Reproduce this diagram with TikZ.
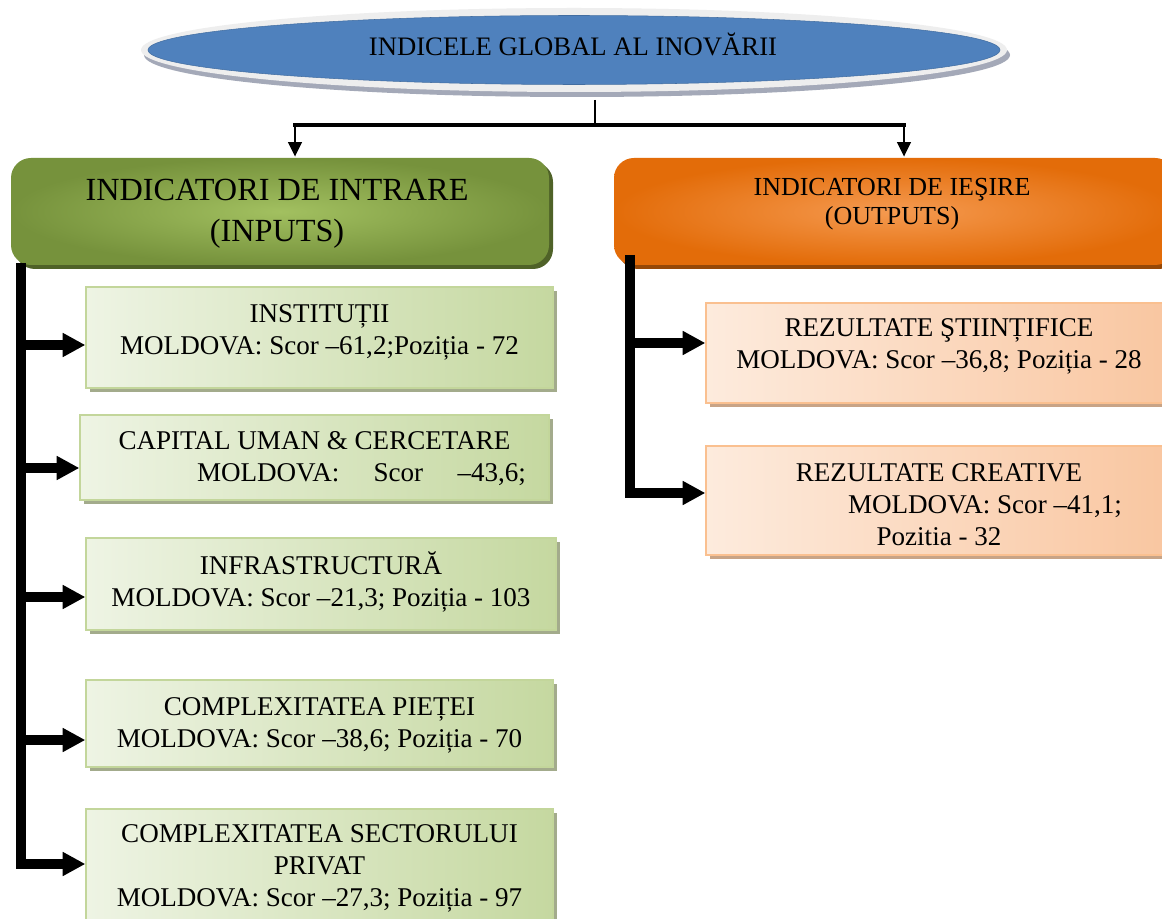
\documentclass[tikz,border=0pt]{standalone}
\usepackage{fontspec}
\setmainfont{Liberation Serif}
\usetikzlibrary{shapes.geometric,arrows.meta,shadows,calc}
\definecolor{ellblue}{HTML}{4F81BD}
\definecolor{ellring}{HTML}{EEEEEE}
\definecolor{ellshadow}{HTML}{A4A9B8}
\definecolor{gdark}{HTML}{76923C}
\definecolor{glight}{HTML}{A2C060}
\definecolor{gshadow}{HTML}{4F6228}
\definecolor{odark}{HTML}{E36C09}
\definecolor{olight}{HTML}{F59A50}
\definecolor{oshadow}{HTML}{974806}
\definecolor{sgl}{HTML}{EEF4E4}
\definecolor{sgr}{HTML}{C5D8A0}
\definecolor{sgborder}{HTML}{C3D69B}
\definecolor{sgshadow}{HTML}{A3AB8C}
\definecolor{sol}{HTML}{FDEBDD}
\definecolor{sor}{HTML}{F9C6A0}
\definecolor{soborder}{HTML}{FAC090}
\definecolor{soshadow}{HTML}{C8A487}
\tikzset{
  topell/.style={ellipse, fill=ellblue, draw=ellblue!85!black, line width=0.4pt,
    minimum width=639pt, minimum height=51.75pt, inner sep=0pt},
  mainbox/.style={rectangle, rounded corners=15pt, inner sep=0pt},
  inbox/.style={mainbox, inner color=glight, outer color=gdark,
    minimum width=403.5pt, minimum height=80.25pt,
    drop shadow={shadow xshift=3pt, shadow yshift=-3pt, fill=gshadow, opacity=1}},
  outbox/.style={mainbox, inner color=olight, outer color=odark,
    minimum width=420.75pt, minimum height=80.25pt,
    drop shadow={shadow xshift=3pt, shadow yshift=-3pt, fill=oshadow, opacity=1}},
  subg/.style={rectangle, draw=sgborder, line width=1pt, left color=sgl, right color=sgr,
    inner sep=0pt,
    drop shadow={shadow xshift=3pt, shadow yshift=-3pt, fill=sgshadow, opacity=1}},
  subo/.style={rectangle, draw=soborder, line width=1pt, left color=sol, right color=sor,
    inner sep=0pt,
    drop shadow={shadow xshift=3pt, shadow yshift=-3pt, fill=soshadow, opacity=1}},
  subtext/.style={align=center, inner sep=0pt, font=\fontsize{20.3}{24}\selectfont},
  topconn/.style={line width=2.2pt, -{Triangle[length=11pt,width=10pt]}},
  busarrow/.style={line width=7pt, -{Triangle[length=17pt,width=17pt]}}
}
\begin{document}
\begin{tikzpicture}[x=0.75pt,y=-0.75pt]
\useasboundingbox (0,0) rectangle (1162,919);
\fill[white] (0,0) rectangle (1162,919);

% top ellipse
\fill[ellshadow] (577,55) ellipse [x radius=433, y radius=42];
\fill[ellring] (574,50) ellipse [x radius=433, y radius=42];
\node[topell] (top) at (574,50) {};
\node[inner sep=0pt, font=\fontsize{20}{24}\selectfont] (ttop) at (573,44.5) {INDICELE GLOBAL AL INOVĂRII};

% main boxes
\node[inbox] (inb) at (280,211.5) {};
\node[align=center, inner sep=0pt, font=\fontsize{24.2}{31}\selectfont] (tinb) at (277,214) {INDICATORI DE INTRARE\\(INPUTS)};
\node[outbox] (outb) at (894.5,211.5) {};
\node[align=center, inner sep=0pt, font=\fontsize{19.5}{22}\selectfont] (toutb) at (892,204) {INDICATORI DE IEŞIRE\\(OUTPUTS)};

% input sub-boxes
\node[subg, minimum width=350.25pt, minimum height=75.75pt] (b1) at (319.5,337.5) {};
\node[subtext] (t1) at (319.5,332.5) {INSTITUȚII\\MOLDOVA: Scor –61,2;Poziția - 72};
\node[subg, minimum width=351.75pt, minimum height=63.75pt] (b2) at (314.5,457.5) {};
\node[subtext] (t2) at (314.5,459) {CAPITAL UMAN \& CERCETARE\\\hspace*{70.5pt}\makebox[246.75pt]{MOLDOVA:\hfill Scor\hfill –43,6;}};
\node[subg, minimum width=352.5pt, minimum height=69pt] (b3) at (321,584) {};
\node[subtext] (t3) at (321,581.5) {INFRASTRUCTURĂ\\MOLDOVA: Scor –21,3; Poziția - 103};
\node[subg, minimum width=350.25pt, minimum height=65.25pt] (b4) at (319.5,723.5) {};
\node[subtext] (t4) at (319.5,725.5) {COMPLEXITATEA PIEȚEI\\MOLDOVA: Scor –38,6; Poziția - 70};
\node[subg, minimum width=350.25pt, minimum height=87pt] (b5) at (319.5,867) {};
\node[subtext] (t5) at (319.5,868.5) {COMPLEXITATEA SECTORULUI\\PRIVAT\\MOLDOVA: Scor –27,3; Poziția - 97};

% output sub-boxes
\node[subo, minimum width=349.5pt, minimum height=75pt] (o1) at (939,353) {};
\node[subtext] (t6) at (939,346) {REZULTATE ŞTIINȚIFICE\\MOLDOVA: Scor –36,8; Poziția - 28};
\node[subo, minimum width=349.5pt, minimum height=81.75pt] (o2) at (939,500.5) {};
\node[subtext] (t7) at (939,505) {REZULTATE CREATIVE\\\hspace*{69pt}MOLDOVA: Scor –41,1;\\Pozitia - 32};

% top connectors
\coordinate (stem) at (595,100);
\coordinate (hub) at (595,125);
\coordinate (aL) at ($(inb.north)+(15,-1)$);
\coordinate (aR) at ($(outb.north)+(9.5,-1)$);
\coordinate (jL) at (aL |- hub);
\coordinate (jR) at (aR |- hub);
\draw[line width=2.2pt] (stem) -- (hub);
\draw[line width=3.5pt, line cap=rect] (jL) -- (jR);
\draw[topconn] (jL) -- (aL);
\draw[topconn] (jR) -- (aR);

% left bus
\coordinate (busL) at (21,263);
\coordinate (e1) at ($(b1.west)+(0,7.5)$);
\coordinate (e2) at ($(b2.west)+(0,10.5)$);
\coordinate (e3) at ($(b3.west)+(0,13)$);
\coordinate (e4) at ($(b4.west)+(0,16.5)$);
\coordinate (e5) at ($(b5.west)+(0,-3)$);
\draw[busarrow] (busL) |- (e5);
\draw[busarrow] (e1 -| busL) -- (e1);
\draw[busarrow] (e2 -| busL) -- (e2);
\draw[busarrow] (e3 -| busL) -- (e3);
\draw[busarrow] (e4 -| busL) -- (e4);

% right bus
\coordinate (busR) at (630,255);
\coordinate (f1) at ($(o1.west)+(0,-10)$);
\coordinate (f2) at ($(o2.west)+(0,-7.5)$);
\draw[busarrow] (busR) |- (f2);
\draw[busarrow] (f1 -| busR) -- (f1);
\end{tikzpicture}
\end{document}
